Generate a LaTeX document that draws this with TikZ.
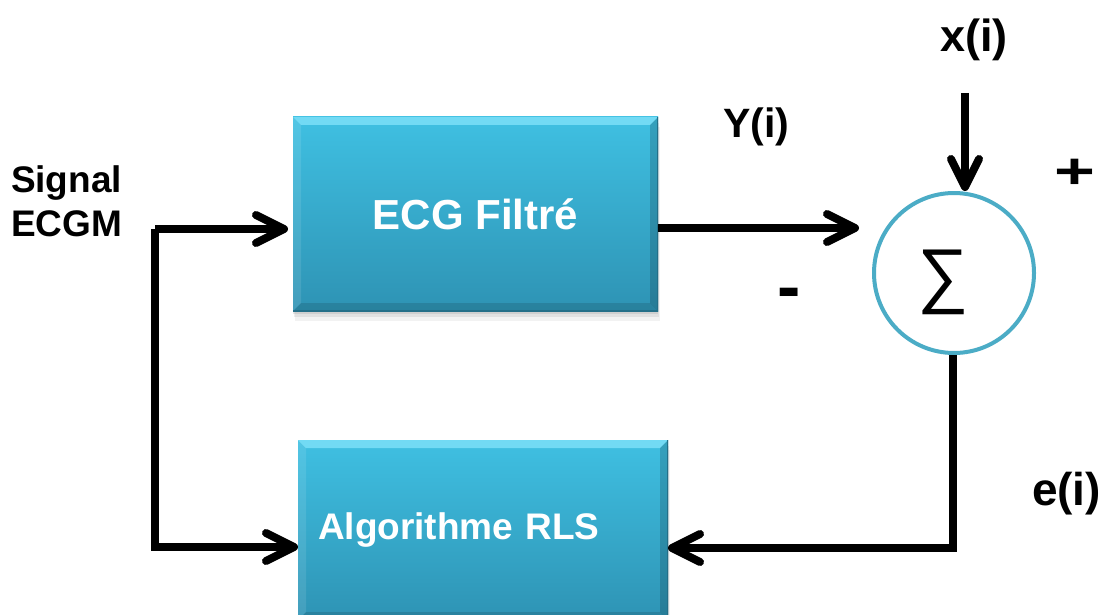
\documentclass[tikz,border=0pt]{standalone}
\usepackage{fontspec}
\setmainfont{Liberation Sans}
\usetikzlibrary{arrows.meta, calc, shadows}

\definecolor{boxtop}{HTML}{3FC0E2}
\definecolor{boxbot}{HTML}{2E93B4}
\definecolor{bevlight}{HTML}{72DAF4}
\definecolor{edgedark}{HTML}{246F88}
\definecolor{ring}{HTML}{4BACC6}

\tikzset{
  block/.style={rectangle, inner sep=0pt, outer sep=0pt, text=white,
    top color=boxtop, bottom color=boxbot,
    drop shadow={opacity=0.10, shadow xshift=2pt, shadow yshift=-10pt},
    drop shadow={opacity=0.14, shadow xshift=1pt, shadow yshift=-6pt},
    drop shadow={opacity=0.18, shadow xshift=0pt, shadow yshift=-3pt},
    path picture={
      \coordinate (nw) at (path picture bounding box.north west);
      \coordinate (ne) at (path picture bounding box.north east);
      \coordinate (sw) at (path picture bounding box.south west);
      \coordinate (se) at (path picture bounding box.south east);
      \fill[bevlight] (nw) -- (ne) -- ($(ne)+(-8,8)$) -- ($(nw)+(8,8)$) -- cycle;
      \fill[white, opacity=0.10] (nw) -- ($(nw)+(8,8)$) -- ($(sw)+(8,-8)$) -- (sw) -- cycle;
      \fill[black, opacity=0.16] (ne) -- (se) -- ($(se)+(-8,-8)$) -- ($(ne)+(-8,8)$) -- cycle;
      \fill[black, opacity=0.12] (sw) -- (se) -- ($(se)+(-8,-8)$) -- ($(sw)+(8,-8)$) -- cycle;
      \draw[edgedark, line width=3pt] (sw) -- (se) -- (ne);
    }},
  sumring/.style={circle, draw=ring, line width=4pt, fill=white,
    minimum size=160pt, inner sep=0pt},
  conn/.style={line width=8pt, draw=black,
    preaction={draw=black, opacity=0.15, transform canvas={shift={(2pt,-3pt)}}}},
  fwd/.style={-{Straight Barb[length=28pt, width=28pt, round]}},
  lbl/.style={inner sep=0pt, outer sep=0pt, text=black, font=\bfseries}
}

\begin{document}
\begin{tikzpicture}[x=1pt, y=-1pt]
\clip (0,0) rectangle (1113,615);
\fill[white] (0,0) rectangle (1113,615);

% processing blocks
\node[block, minimum width=365pt, minimum height=194pt,
      font=\fontsize{42}{50}\selectfont\bfseries] (filt) at (475.5,214) {ECG Filtré};
\node[block, minimum width=370pt, minimum height=180pt, text width=330pt,
      align=left, inner xsep=20pt,
      font=\fontsize{37}{44}\selectfont\bfseries] (rls) at (483,530) {Algorithme RLS};

% summing junction
\node[sumring] (sum) at (954,273) {};
\node[inner sep=0pt, font=\fontsize{72}{72}\selectfont] (sig) at (943,282) {∑};

% labels
\node[lbl, align=left, anchor=north west, font=\fontsize{37}{44}\selectfont\bfseries]
  (sigin) at (11,166) {Signal\\ECGM};
\node[lbl, anchor=base west, font=\fontsize{45}{50}\selectfont\bfseries] (xlbl) at (940,52) {x(i)};
\node[lbl, anchor=base west, font=\fontsize{41}{46}\selectfont\bfseries] (ylbl) at (723,138) {Y(i)};
\node[lbl, anchor=base west, font=\fontsize{46}{50}\selectfont\bfseries] (elbl) at (1032,505) {e(i)};
\node[lbl, font=\fontsize{50}{50}\selectfont\bfseries] (plus) at (1075,174) {\scalebox{1.4}[1]{+}};
\node[lbl, font=\fontsize{70}{70}\selectfont\bfseries] (minus) at (789,299) {-};

% connectors
\coordinate (split) at (155,229);
\coordinate (xin) at (965,93);
\draw[conn, fwd, shorten >=5pt] (split) -- (split -| filt.west);
\draw[conn, fwd] (split) |- ([yshift=-17pt]rls.west);
\draw[conn, fwd, shorten >=13pt] ([yshift=-14pt]filt.east) -- ([yshift=-14pt]filt.east -| sum.west);
\draw[conn, fwd] (xin) -- (xin |- sum.north);
\draw[conn, fwd] ([xshift=-1pt]sum.south) |- ([yshift=-18pt]rls.east);
\end{tikzpicture}
\end{document}
